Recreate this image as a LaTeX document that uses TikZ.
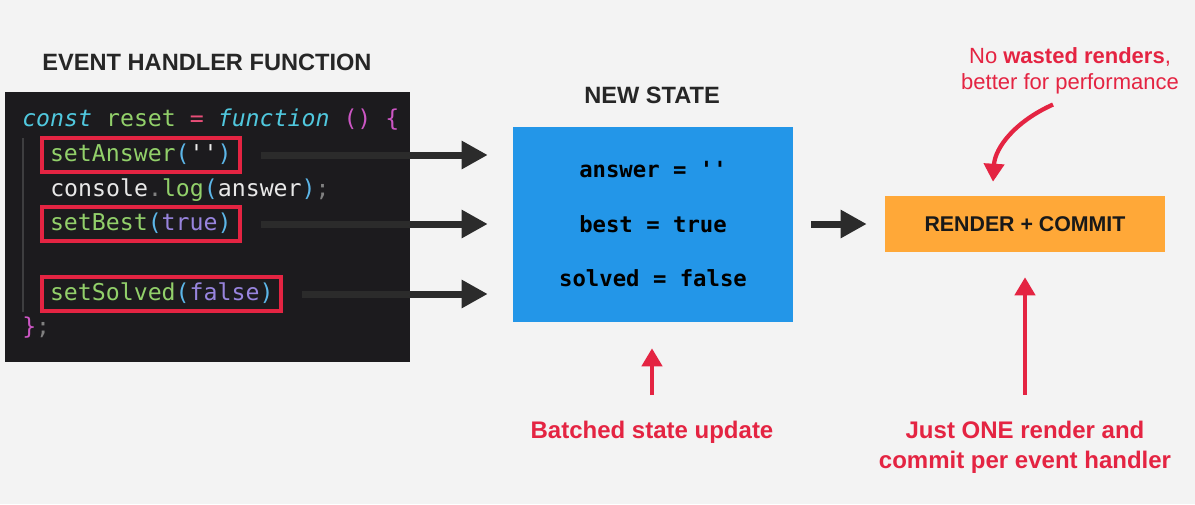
\documentclass[tikz,border=0pt]{standalone}
\usepackage{fontspec}
\setmainfont{Liberation Sans}
\newfontfamily\codefont{DejaVu Sans Mono}
\usepackage{xcolor}
\usetikzlibrary{arrows.meta, positioning}

\definecolor{pagebg}{RGB}{243,243,243}
\definecolor{codebg}{RGB}{28,27,30}
\definecolor{stateblue}{RGB}{35,150,232}
\definecolor{renderorange}{RGB}{255,168,56}
\definecolor{hintred}{RGB}{228,36,66}
\definecolor{inkgray}{RGB}{38,38,38}
\definecolor{arrowgray}{RGB}{43,43,43}
\definecolor{kwcyan}{RGB}{80,200,222}
\definecolor{fngreen}{RGB}{146,208,106}
\definecolor{opred}{RGB}{232,78,120}
\definecolor{brmagenta}{RGB}{204,86,196}
\definecolor{parblue}{RGB}{92,182,232}
\definecolor{valpurple}{RGB}{152,132,222}
\definecolor{plainwhite}{RGB}{232,232,232}
\definecolor{pungray}{RGB}{128,128,128}

\newcommand\kw[1]{\textcolor{kwcyan}{\itshape #1}}
\newcommand\cfn[1]{\textcolor{fngreen}{#1}}
\newcommand\cop[1]{\textcolor{opred}{#1}}
\newcommand\cbr[1]{\textcolor{brmagenta}{#1}}
\newcommand\cpar[1]{\textcolor{parblue}{#1}}
\newcommand\cval[1]{\textcolor{valpurple}{#1}}
\newcommand\cpun[1]{\textcolor{pungray}{#1}}
\newcommand\sq{\char"27}

\begin{document}
\begin{tikzpicture}[x=0.75pt, y=-0.75pt,
  title/.style={font=\fontsize{17.7}{20}\selectfont\bfseries, text=inkgray},
  codeline/.style={font=\codefont\fontsize{17.4}{20}\selectfont, text=plainwhite,
    inner sep=0pt, text height=13pt, text depth=3.5pt, anchor=west},
  setcall/.style={codeline, draw=hintred, line width=3pt, inner xsep=6pt, inner ysep=4.5pt, outer sep=0pt},
  flow/.style={arrowgray, line width=5.25pt, -{Triangle[length=19.5pt, width=20pt]}},
  hint/.style={hintred, line width=3.2pt, -{Triangle[length=13.5pt, width=15pt]}},
  note/.style={text=hintred, align=center, inner sep=0pt}]
\useasboundingbox (0,0) rectangle (1195,504);
\fill[pagebg] (0,0) rectangle (1195,504);

% event handler code
\node[title] (evt) at (207,62) {EVENT HANDLER FUNCTION};
\node[fill=codebg, minimum width=303.75pt, minimum height=202.5pt, inner sep=0pt] (code) at (207.5,227) {};
\draw[draw={rgb,255:red,62;green,62;blue,64}, line width=0.8pt] (23,138) -- (23,312);
\node[codeline] (l1) at (22,120) {\kw{const} \cfn{reset} \cop{=} \kw{function} \cbr{() \{}};
\node[setcall] (ans) at (42,155) {\cfn{setAnswer}\cpar{(}\textcolor{plainwhite!80}{\sq\sq}\cpar{)}};
\node[codeline] (logline) at (50,190) {console\cpun{.}\cfn{log}\cpar{(}answer\cpar{)}\cpun{;}};
\node[setcall] (best) at (42,224) {\cfn{setBest}\cpar{(}\cval{true}\cpar{)}};
\node[setcall] (solved) at (42,294) {\cfn{setSolved}\cpar{(}\cval{false}\cpar{)}};
\node[codeline] (lend) at (22,328) {\cbr{\}}\cpun{;}};

% new state
\node[title] (newstate) at (652,95) {NEW STATE};
\node[fill=stateblue, minimum width=210pt, minimum height=146.25pt, inner sep=0pt, align=center,
  font=\codefont\bfseries\fontsize{16.7}{40.9}\selectfont] (state) at (653,224.5)
  {answer = \sq\sq\\best = true\\solved = false};

% render + commit
\node[fill=renderorange, minimum width=210pt, minimum height=42pt, text=black!90,
  font=\bfseries\fontsize{16}{19}\selectfont] (render) at (1025,224) {RENDER + COMMIT};

% setter calls into the state
\foreach \src in {ans,best,solved} {
  \draw[flow, shorten >=18.75pt] ([xshift=15.75pt]\src.east) -- (\src.east -| state.west);
}
\draw[flow, shorten <=13.5pt, shorten >=13.5pt] (state.east |- render.west) -- (render.west);

% red notes
\node[note, font=\bfseries\fontsize{18}{22}\selectfont] (batch) at (652,432) {Batched state update};
\draw[hint, shorten <=19pt, shorten >=19.5pt] (batch.north) -- (batch.north |- state.south);
\node[note, font=\bfseries\fontsize{18}{22.5}\selectfont] (justone) at (1025,447) {Just ONE render and\\commit per event handler};
\draw[hint, shorten <=19.5pt, shorten >=18.75pt] (justone.north) -- (justone.north |- render.south);
\node[note, font=\fontsize{16.5}{19.5}\selectfont] (waste) at (1070,71) {No \textbf{wasted renders},\\better for performance};
\draw[hint] ([xshift=-12.75pt,yshift=-7.5pt]waste.south) .. controls +(-38,17) and +(2,-34) .. ([xshift=-24pt,yshift=10.5pt]render.north);
\end{tikzpicture}
\end{document}
